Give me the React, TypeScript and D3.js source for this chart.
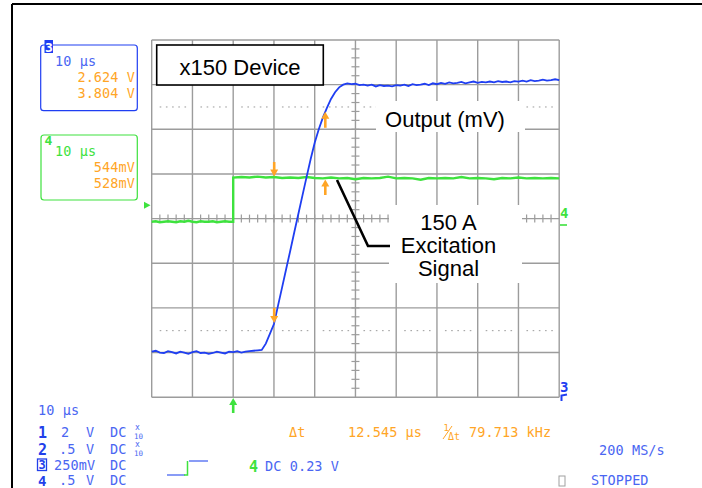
import React from "react";
import * as d3 from "d3";

// ---- data (time in µs, 10 µs/div; amplitude in screen divisions) ----
const timeTicks = d3.range(0, 101, 10);
const divTicks = d3.range(0, 9, 1);

// Channel 3 (blue, output) sampled every 1 µs, t = 0..100
const blueFlat = [1.02, 1.04, 1.0, 0.99, 1.03, 1.01, 0.98, 1.02, 1.0, 0.97, 1.01, 1.03, 0.99, 1.0, 0.97, 0.99, 1.02, 1.0, 0.98, 1.02, 1.01, 1.03, 1.0, 1.02, 1.03, 1.04, 1.05];
const blueRise = [1.06, 1.2, 1.42, 1.64, 2.05, 2.46, 2.87, 3.28, 3.7, 4.11, 4.52, 4.93, 5.33, 5.7, 6.0, 6.26, 6.48, 6.68, 6.83, 6.94, 7.0];
const blueTop = [7.03, 7.01, 7.02, 6.99, 7.0, 6.98, 7.0, 6.96, 6.99, 6.97, 6.98, 6.96, 6.99, 6.98, 7.0, 6.97, 7.01, 6.99, 7.0, 7.02, 6.99, 7.03, 7.01, 7.04, 7.02, 7.05, 7.03, 7.04, 7.06, 7.03, 7.05, 7.07, 7.04, 7.06, 7.05, 7.07, 7.05, 7.08, 7.06, 7.07, 7.05, 7.08, 7.07, 7.09, 7.07, 7.1, 7.08, 7.09, 7.11, 7.09, 7.1, 7.12, 7.1];
const blueValues = [...blueFlat, ...blueRise, ...blueTop];

// Channel 4 (green, excitation): low every 1 µs for t = 0..20, high every 2 µs for t = 20..100
const greenLow = [3.93, 3.94, 3.92, 3.93, 3.94, 3.93, 3.92, 3.94, 3.93, 3.95, 3.93, 3.92, 3.94, 3.93, 3.93, 3.94, 3.92, 3.93, 3.94, 3.93, 3.93];
const greenHigh = [4.92, 4.93, 4.92, 4.94, 4.92, 4.93, 4.91, 4.92, 4.91, 4.93, 4.91, 4.9, 4.92, 4.9, 4.91, 4.88, 4.91, 4.9, 4.91, 4.94, 4.9, 4.91, 4.9, 4.87, 4.91, 4.9, 4.91, 4.9, 4.93, 4.9, 4.91, 4.9, 4.88, 4.91, 4.9, 4.92, 4.9, 4.91, 4.9, 4.91, 4.9];
const greenStepTime = 20;

// cursors
const cursorT1 = 30.06;
const cursorT2 = 42.6;
const cursorLevels = [6.5, 1.49];

// labels
const blueReadout = ["10 μs", "2.624 V", "3.804 V"];
const greenReadout = ["10 μs", "544mV", "528mV"];
const annotationDevice = "x150 Device";
const annotationOutput = "Output (mV)";
const annotationExcitation = ["150 A", "Excitation", "Signal"];

const W = 702;
const H = 488;

const BLUE = "#1f3ef2";
const GREEN = "#3ee23e";
const ORANGE = "#ffa526";
const TXT_BLUE = "#4a66f2";
const DEEP_BLUE = "#2240ea";
const GRID = "#9c9c9c";
const MONO = "'DejaVu Sans Mono', monospace";
const SANS = "'Liberation Sans', Arial, sans-serif";

function Arrow({ x, tip, base, color }: { x: number; tip: number; base: number; color: string }) {
  const dir = tip < base ? 1 : -1; // 1: pointing up
  const hl = 7;
  return (
    <g>
      <line x1={x} x2={x} y1={base} y2={tip + dir * hl * 0.6} stroke={color} strokeWidth={2.6} />
      <path d={`M${x},${tip} L${x - 4},${tip + dir * hl} L${x + 4},${tip + dir * hl} Z`} fill={color} />
    </g>
  );
}

export default function App() {
  const x = d3.scaleLinear().domain([0, 100]).range([151.7, 559.2]);
  const y = d3.scaleLinear().domain([0, 8]).range([397.2, 40]);

  const blueData = blueValues.map((v, i) => [i, v] as [number, number]);
  const greenData: [number, number][] = [
    ...greenLow.map((v, i) => [i, v] as [number, number]),
    ...greenHigh.map((v, i) => [greenStepTime + i * 2, v] as [number, number]),
  ];
  const line = d3
    .line<[number, number]>()
    .x((d) => x(d[0]))
    .y((d) => y(d[1]));

  const blueAt = (t: number) => {
    const i = Math.floor(t);
    const f = t - i;
    return blueValues[i] * (1 - f) + blueValues[i + 1] * f;
  };
  const greenHighLevel = d3.mean(greenHigh) as number;

  const dx = x(10) - x(0);
  const dy = y(0) - y(1);
  const cx = x(50);
  const cy = y(4);

  // dotted cursor lines
  const dots: React.ReactNode[] = [];
  cursorLevels.forEach((lv, li) => {
    timeTicks.slice(0, -1).forEach((t, ti) => {
      for (let k = 0; k < 5; k++) {
        const px = x(t) + 8 + k * 6.2;
        dots.push(<line key={`d${li}-${ti}-${k}`} x1={px} x2={px + 1.6} y1={y(lv)} y2={y(lv)} stroke="#9a9a9a" strokeWidth={1} />);
      }
    });
  });

  const ticksV = d3.range(1, 40).map((k) => y(0) - (k * dy) / 5);
  const ticksH = d3.range(1, 50).map((k) => x(0) + (k * dx) / 5);

  const monoText = { fontFamily: MONO, fontSize: 13.5, letterSpacing: 0.1 } as const;

  return (
    <svg width={W} height={H} style={{ position: "absolute", left: 0, top: 0, background: "#fff" }}>
      <rect x={0} y={0} width={W} height={H} fill="#fff" />
      {/* outer frame */}
      <line x1={12} x2={W} y1={4} y2={4} stroke="#000" strokeWidth={2} />
      <line x1={12} x2={12} y1={4} y2={H} stroke="#000" strokeWidth={2} />

      {/* grid */}
      {timeTicks.map((t) => (
        <line key={`gx${t}`} x1={x(t)} x2={x(t)} y1={y(8)} y2={y(0)} stroke={GRID} strokeWidth={1.4} />
      ))}
      {divTicks.map((v) => (
        <line key={`gy${v}`} x1={x(0)} x2={x(100)} y1={y(v)} y2={y(v)} stroke={GRID} strokeWidth={1.4} />
      ))}
      {ticksV.map((py, i) => (
        <line key={`tv${i}`} x1={cx - 4} x2={cx + 4} y1={py} y2={py} stroke={GRID} strokeWidth={1.2} />
      ))}
      {ticksH.map((px, i) => (
        <line key={`th${i}`} x1={px} x2={px} y1={cy - 4} y2={cy + 4} stroke={GRID} strokeWidth={1.2} />
      ))}
      {dots}

      {/* traces */}
      <path d={line(greenData) || ""} fill="none" stroke={GREEN} strokeWidth={2.4} />
      <path d={line(blueData) || ""} fill="none" stroke={BLUE} strokeWidth={1.8} />

      {/* cursor arrows */}
      <Arrow x={x(cursorT1)} tip={y(greenHighLevel) - 1.5} base={y(greenHighLevel) - 16} color={ORANGE} />
      <Arrow x={x(cursorT2)} tip={y(greenHighLevel) + 1.5} base={y(greenHighLevel) + 17} color={ORANGE} />
      <Arrow x={x(cursorT1)} tip={y(blueAt(cursorT1))} base={y(blueAt(cursorT1)) - 15} color={ORANGE} />
      <Arrow x={x(cursorT2)} tip={y(blueAt(cursorT2))} base={y(blueAt(cursorT2)) + 16} color={ORANGE} />

      {/* annotation boxes */}
      <rect x={156.7} y={45} width={166.6} height={40} fill="#fff" stroke="#000" strokeWidth={1.6} />
      <text x={240} y={75} textAnchor="middle" fontFamily={SANS} fontSize={22} fill="#000">{annotationDevice}</text>

      <rect x={376} y={101} width={149} height={31} fill="#fff" />
      <text x={445} y={126.7} textAnchor="middle" fontFamily={SANS} fontSize={22} fill="#000">{annotationOutput}</text>

      <rect x={389} y={205} width={133} height={78} fill="#fff" />
      {annotationExcitation.map((s, i) => (
        <text key={s} x={448.5} y={230 + i * 23} textAnchor="middle" fontFamily={SANS} fontSize={22} fill="#000">{s}</text>
      ))}
      <path d="M337,180 L368,246 L390,246" fill="none" stroke="#000" strokeWidth={2.6} />

      {/* markers around grid */}
      <path d={`M144,${y(4.3) - 3.5} L150.5,${y(4.3)} L144,${y(4.3) + 3.5} Z`} fill={GREEN} />
      <text x={560} y={218} fontFamily={MONO} fontSize={14} fontWeight="bold" fill={GREEN}>4</text>
      <line x1={560} x2={567} y1={225} y2={225} stroke={GREEN} strokeWidth={1.6} />
      <text x={560} y={392} fontFamily={MONO} fontSize={14} fontWeight="bold" fill={BLUE}>3</text>
      <path d="M561.5,401 L561.5,395.5 L567,394.5" fill="none" stroke={BLUE} strokeWidth={2} />
      <Arrow x={x(greenStepTime)} tip={398} base={413} color={GREEN} />

      {/* readout panels */}
      <rect x={40.7} y={45} width={96.6} height={65.7} rx={3} fill="#fff" stroke={BLUE} strokeWidth={1.2} />
      <rect x={44.5} y={40} width={8.5} height={13} fill={BLUE} />
      <text x={48.8} y={51.5} textAnchor="middle" fontFamily={MONO} fontSize={13} fontWeight="bold" fill="#fff">3</text>
      <text x={55} y={66} {...monoText} fill={TXT_BLUE}>{blueReadout[0]}</text>
      <text x={135} y={82} textAnchor="end" {...monoText} fill={ORANGE}>{blueReadout[1]}</text>
      <text x={135} y={98} textAnchor="end" {...monoText} fill={ORANGE}>{blueReadout[2]}</text>

      <rect x={41} y={135} width={96.3} height={65} rx={3} fill="#fff" stroke={GREEN} strokeWidth={1.2} />
      <text x={44.5} y={145} fontFamily={MONO} fontSize={13} fontWeight="bold" fill={GREEN}>4</text>
      <text x={55} y={156} {...monoText} fill={GREEN}>{greenReadout[0]}</text>
      <text x={135} y={172} textAnchor="end" {...monoText} fill={ORANGE}>{greenReadout[1]}</text>
      <text x={135} y={188} textAnchor="end" {...monoText} fill={ORANGE}>{greenReadout[2]}</text>

      {/* bottom status area */}
      <text x={38} y={415} {...monoText} fill={TXT_BLUE}>10 μs</text>

      <text x={38} y={438} fontFamily={MONO} fontSize={15} fontWeight="bold" fill={DEEP_BLUE}>1</text>
      <text x={61} y={437} {...monoText} fill={TXT_BLUE}>2</text>
      <text x={86} y={437} {...monoText} fill={TXT_BLUE}>V</text>
      <text x={110} y={437} {...monoText} fill={TXT_BLUE}>DC</text>
      <text x={135} y={430} fontFamily={MONO} fontSize={8} fill={TXT_BLUE}>x</text>
      <text x={134} y={438.5} fontFamily={MONO} fontSize={7.5} fill={TXT_BLUE}>10</text>

      <text x={38} y={455} fontFamily={MONO} fontSize={15} fontWeight="bold" fill={DEEP_BLUE}>2</text>
      <text x={59} y={454} {...monoText} fill={TXT_BLUE}>.5</text>
      <text x={86} y={454} {...monoText} fill={TXT_BLUE}>V</text>
      <text x={110} y={454} {...monoText} fill={TXT_BLUE}>DC</text>
      <text x={135} y={447} fontFamily={MONO} fontSize={8} fill={TXT_BLUE}>x</text>
      <text x={134} y={455.5} fontFamily={MONO} fontSize={7.5} fill={TXT_BLUE}>10</text>

      <rect x={37.5} y={459} width={9} height={11.5} fill="#fff" stroke={DEEP_BLUE} strokeWidth={1.3} />
      <text x={42} y={469} textAnchor="middle" fontFamily={MONO} fontSize={12} fontWeight="bold" fill={DEEP_BLUE}>3</text>
      <text x={54} y={469.5} {...monoText} fill={TXT_BLUE}>250mV</text>
      <text x={110} y={469.5} {...monoText} fill={TXT_BLUE}>DC</text>

      <text x={38} y={485.5} fontFamily={MONO} fontSize={14} fontWeight="bold" fill={DEEP_BLUE}>4</text>
      <text x={59} y={485} {...monoText} fill={TXT_BLUE}>.5</text>
      <text x={86} y={485} {...monoText} fill={TXT_BLUE}>V</text>
      <text x={110} y={485} {...monoText} fill={TXT_BLUE}>DC</text>

      <text x={289} y={437} {...monoText} fill={ORANGE}>Δt</text>
      <text x={348} y={437} {...monoText} fill={ORANGE}>12.545 μs</text>
      <text x={443.5} y={431} fontFamily={MONO} fontSize={9} fill={ORANGE}>1</text>
      <line x1={443} x2={452} y1={439} y2={426} stroke={ORANGE} strokeWidth={1} />
      <text x={448} y={440} fontFamily={MONO} fontSize={10} fill={ORANGE}>Δt</text>
      <text x={469} y={437} {...monoText} fill={ORANGE}>79.713 kHz</text>

      <text x={599} y={455} {...monoText} fill={TXT_BLUE}>200 MS/s</text>

      <line x1={167} x2={185} y1={475} y2={475} stroke={TXT_BLUE} strokeWidth={1.3} />
      <path d="M184,475 L187.5,475 L187.5,461" fill="none" stroke={GREEN} strokeWidth={1.5} />
      <line x1={189} x2={208} y1={461} y2={461} stroke={TXT_BLUE} strokeWidth={1.3} />

      <text x={249} y={472} fontFamily={MONO} fontSize={15} fontWeight="bold" fill={GREEN}>4</text>
      <text x={265} y={471} {...monoText} fill={TXT_BLUE}>DC 0.23 V</text>

      <rect x={559} y={476} width={6} height={10} fill="none" stroke="#a0a0a0" strokeWidth={1} />
      <text x={591} y={485} {...monoText} fill={TXT_BLUE}>STOPPED</text>
    </svg>
  );
}
